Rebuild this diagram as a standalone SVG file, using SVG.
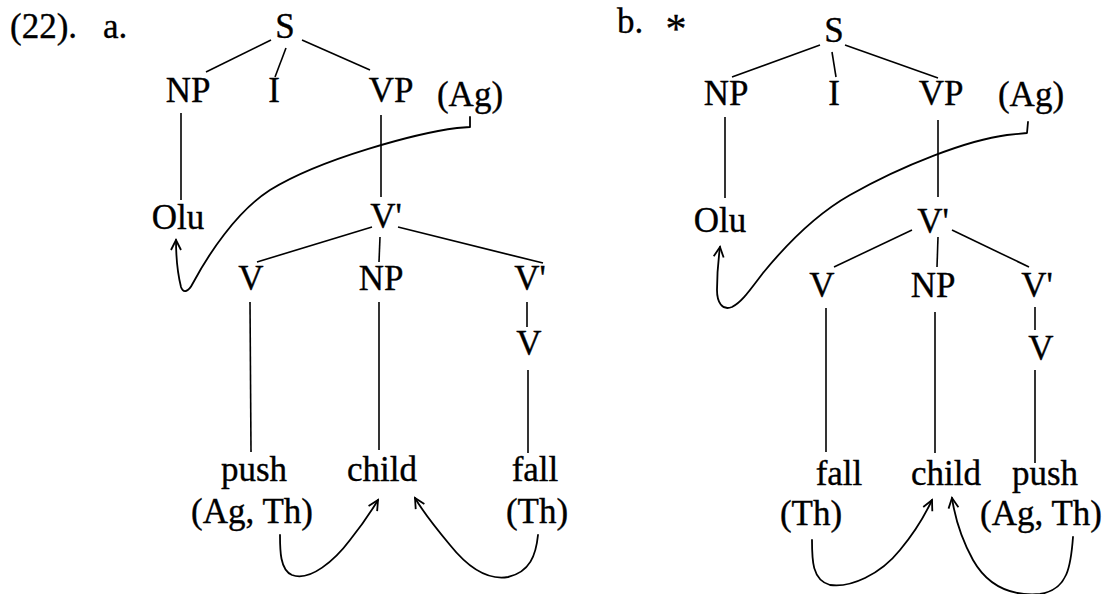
<svg xmlns="http://www.w3.org/2000/svg" width="1108" height="594" viewBox="0 0 1108 594">
<defs>
<style>
text{font-family:"Liberation Serif","Times New Roman",serif;font-size:35px;fill:#000;stroke:#000;stroke-width:0.35;text-anchor:middle}
.l{text-anchor:start}
.e{stroke:#000;stroke-width:1.6;fill:none}
.a{stroke:#000;stroke-width:1.8;fill:none;stroke-linecap:round;stroke-linejoin:round}
</style>
<marker id="h" viewBox="-12 -8 14 16" markerWidth="14" markerHeight="16" refX="0" refY="0" orient="auto" markerUnits="userSpaceOnUse">
<path d="M-10,-5 L0,0 L-10,5" fill="none" stroke="#000" stroke-width="1.8"/>
</marker>
</defs>
<rect width="1108" height="594" fill="#fff"/>

<g id="labels">
<text class="l" x="10" y="38">(22).</text>
<text class="l" x="103" y="38">a.</text>
<text class="l" x="617" y="33">b.</text>
<text x="676" y="43" style="font-size:42px">*</text>
</g>

<g id="connectors">
<!-- tree a -->
<line class="e" x1="271" y1="40" x2="206" y2="72"/>
<line class="e" x1="286" y1="48" x2="275" y2="77"/>
<line class="e" x1="302" y1="40" x2="370" y2="70"/>
<line class="e" x1="181" y1="113" x2="181" y2="200"/>
<line class="e" x1="381" y1="115" x2="381" y2="197"/>
<line class="e" x1="372" y1="227" x2="257" y2="262"/>
<line class="e" x1="380" y1="237" x2="379" y2="262"/>
<line class="e" x1="398" y1="227" x2="543" y2="263"/>
<line class="e" x1="250" y1="302" x2="251" y2="452"/>
<line class="e" x1="379" y1="302" x2="379" y2="450"/>
<line class="e" x1="527" y1="302" x2="527" y2="327"/>
<line class="e" x1="528" y1="370" x2="528" y2="453"/>
<path class="a" marker-end="url(#h)" d="M470,117 L470,127 L457,128 C418,133 322,158 270,190 C236,212 208,255 193,283 C188,293 183,293 181,287 C178,275 176,256 176,240"/>
<path class="a" marker-end="url(#h)" d="M280,535 C280,550 280,570 292,575 C310,582 335,560 350,540 C362,525 372,510 378,500"/>
<path class="a" marker-end="url(#h)" d="M538,535 C536,555 530,572 508,577 C490,580 470,570 450,545 C435,527 422,510 415,498"/>
<!-- tree b -->
<line class="e" x1="820" y1="45" x2="732" y2="77"/>
<line class="e" x1="832" y1="52" x2="836" y2="77"/>
<line class="e" x1="845" y1="45" x2="938" y2="78"/>
<line class="e" x1="725" y1="117" x2="725" y2="198"/>
<line class="e" x1="938" y1="120" x2="938" y2="197"/>
<line class="e" x1="912" y1="230" x2="834" y2="267"/>
<line class="e" x1="938" y1="237" x2="937" y2="267"/>
<line class="e" x1="952" y1="230" x2="1029" y2="267"/>
<line class="e" x1="826" y1="308" x2="826" y2="452"/>
<line class="e" x1="935" y1="312" x2="935" y2="453"/>
<line class="e" x1="1035" y1="307" x2="1035" y2="330"/>
<line class="e" x1="1035" y1="370" x2="1035" y2="463"/>
<path class="a" marker-end="url(#h)" d="M1028,122 L1027,133 L1007,135 C968,140 903,165 850,195 C820,212 790,240 763,273 C750,290 742,302 732,307 C722,311 717,302 717,290 C717,276 718,262 720,247"/>
<path class="a" marker-end="url(#h)" d="M812,540 C812,560 812,580 830,585 C850,588 880,575 900,550 C915,532 925,515 932,500"/>
<path class="a" marker-end="url(#h)" d="M1073,537 C1071,565 1068,590 1040,594 C1015,596 990,590 973,560 C962,540 955,518 952,498"/>
</g>

<g id="a-S"><text x="285" y="38">S</text></g>
<g id="a-NP"><text x="188" y="102">NP</text></g>
<g id="a-I"><text x="274" y="102">I</text></g>
<g id="a-VP"><text x="391" y="102">VP</text></g>
<g id="a-Ag"><text x="470" y="106">(Ag)</text></g>
<g id="a-Olu"><text x="178" y="229">Olu</text></g>
<g id="a-Vbar"><text x="386" y="228">V'</text></g>
<g id="a-V"><text x="251" y="290">V</text></g>
<g id="a-NP2"><text x="381" y="290">NP</text></g>
<g id="a-Vbar2"><text x="530" y="290">V'</text></g>
<g id="a-V2"><text x="529" y="355">V</text></g>
<g id="a-push"><text x="254" y="481">push</text><text x="252" y="523">(Ag, Th)</text></g>
<g id="a-child"><text x="382" y="481">child</text></g>
<g id="a-fall"><text x="535" y="481">fall</text><text x="537" y="523">(Th)</text></g>

<g id="b-S"><text x="834" y="42">S</text></g>
<g id="b-NP"><text x="726" y="105">NP</text></g>
<g id="b-I"><text x="834" y="105">I</text></g>
<g id="b-VP"><text x="941" y="105">VP</text></g>
<g id="b-Ag"><text x="1031" y="106">(Ag)</text></g>
<g id="b-Olu"><text x="720" y="232">Olu</text></g>
<g id="b-Vbar"><text x="933" y="233">V'</text></g>
<g id="b-V"><text x="822" y="297">V</text></g>
<g id="b-NP2"><text x="933" y="297">NP</text></g>
<g id="b-Vbar2"><text x="1037" y="297">V'</text></g>
<g id="b-V2"><text x="1041" y="360">V</text></g>
<g id="b-fall"><text x="839" y="485">fall</text><text x="811" y="525">(Th)</text></g>
<g id="b-child"><text x="946" y="485">child</text></g>
<g id="b-push"><text x="1045" y="485">push</text><text x="1041" y="525">(Ag, Th)</text></g>
</svg>
